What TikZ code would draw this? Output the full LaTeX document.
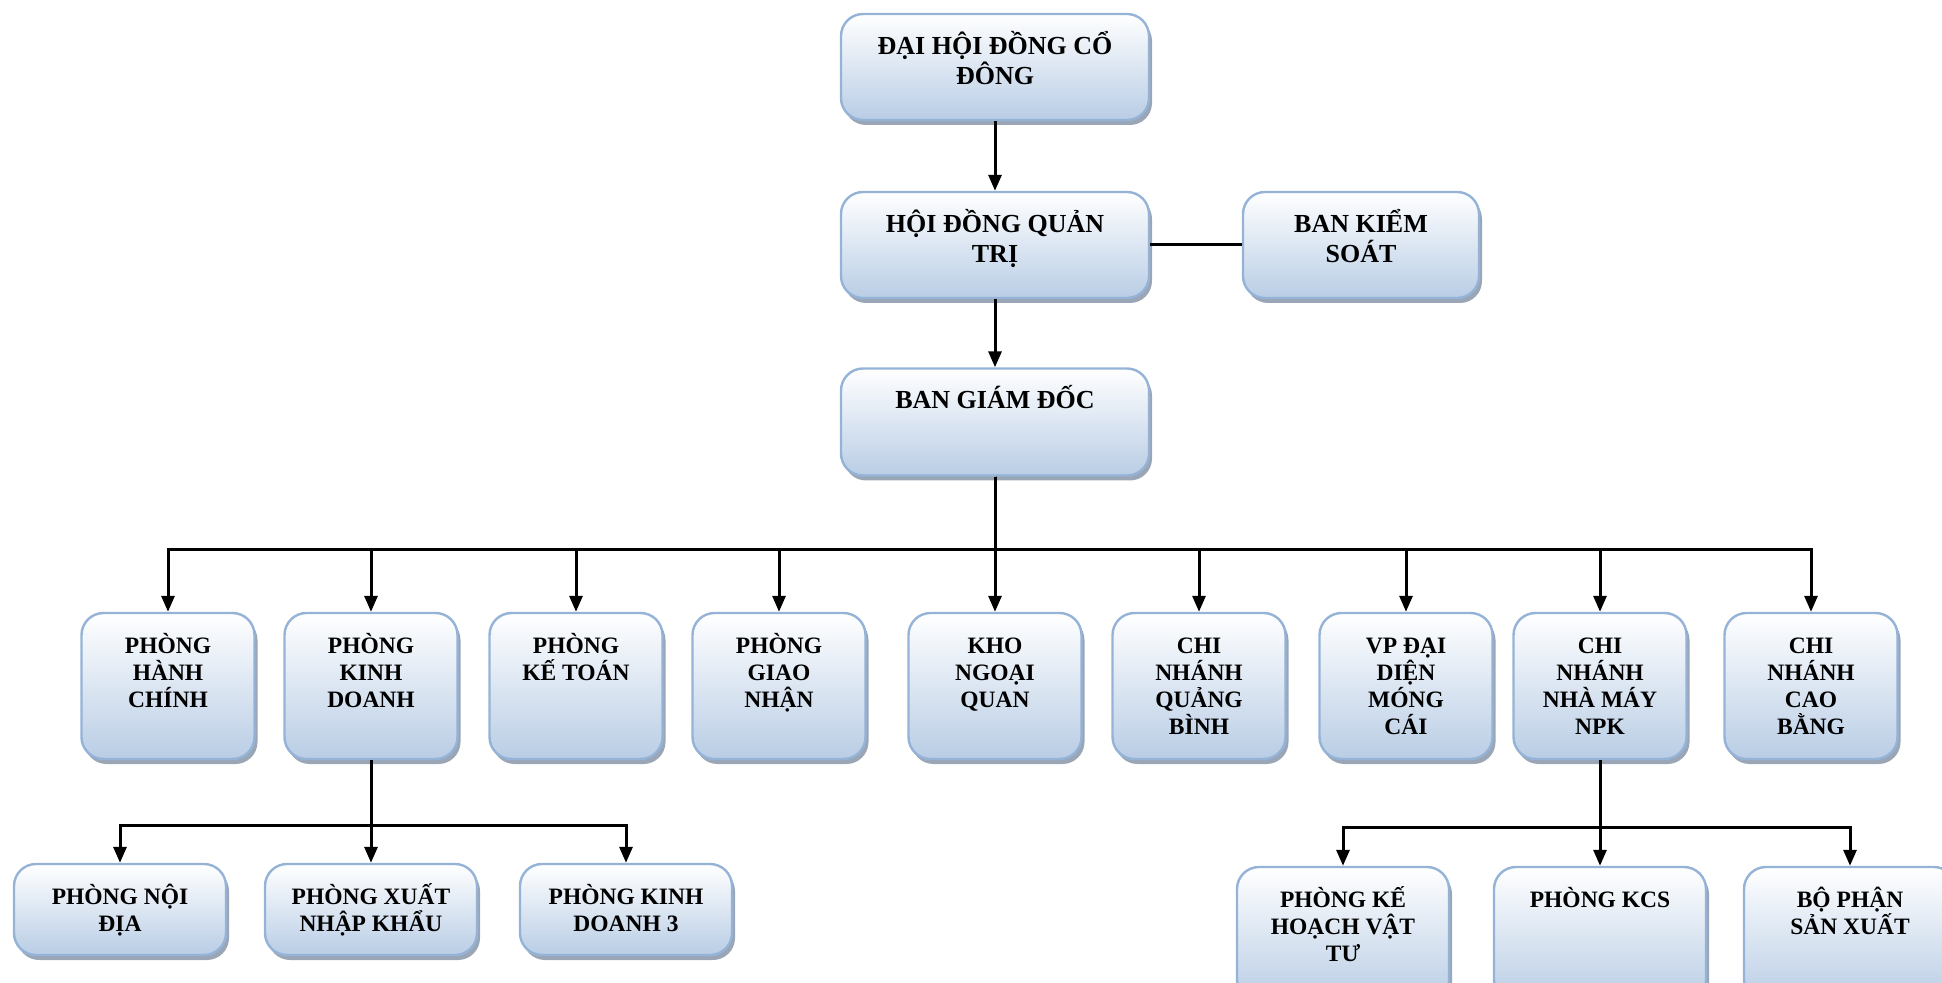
\documentclass[tikz,border=0pt]{standalone}
\usepackage{fontspec}
\setmainfont{Liberation Serif}
\usetikzlibrary{arrows.meta,shadows}
\definecolor{boxline}{HTML}{95B3D7}
\definecolor{boxfill}{HTML}{B9CDE5}
\definecolor{boxshadow}{HTML}{9AA6B6}
\newcommand{\Caps}[1]{\rule{0pt}{15pt}#1}

\begin{document}
\begin{tikzpicture}[x=0.5pt, y=-0.5pt, >={Triangle[length=8pt,width=6.5pt]},
    unit/.style={draw=boxline, line width=1.2pt, rounded corners=11pt, top color=white, bottom color=boxfill,
        drop shadow={shadow xshift=1.5pt, shadow yshift=-2.5pt, fill=boxshadow, opacity=1}, inner sep=0pt},
    head/.style={unit, minimum width=154pt, minimum height=53pt},
    dept/.style={unit, minimum width=86.5pt, minimum height=73pt},
    sub/.style={unit, minimum width=106pt, minimum height=45.5pt},
    caption/.style={anchor=north, align=center, inner sep=0pt, yshift=-5.5pt,
        font=\fontsize{11.75pt}{13.5pt}\selectfont\bfseries},
    headcap/.style={caption, font=\fontsize{13pt}{15pt}\selectfont\bfseries},
    link/.style={line width=1.5pt}]

    \clip (0,0) rectangle (1942,983);

    % top levels
    \draw(995,67) node[head] (ddh) {};
    \draw(ddh.north) node[headcap] (ddh-t) {\Caps{ĐẠI HỘI ĐỒNG CỔ}\\ĐÔNG};
    \draw(995,245) node[head] (hdqt) {};
    \draw(hdqt.north) node[headcap] (hdqt-t) {\Caps{HỘI ĐỒNG QUẢN}\\TRỊ};
    \draw(1361,245) node[head, minimum width=118pt] (bks) {};
    \draw(bks.north) node[headcap] (bks-t) {\Caps{BAN KIỂM}\\SOÁT};
    \draw(995,422) node[head, minimum height=53.5pt] (bgd) {};
    \draw(bgd.north) node[headcap] (bgd-t) {\Caps{BAN GIÁM ĐỐC}};

    % departments
    \draw(168,686) node[dept] (hc) {};
    \draw(hc.north) node[caption] (hc-t) {\Caps{PHÒNG}\\HÀNH\\CHÍNH};
    \draw(371,686) node[dept] (kd) {};
    \draw(kd.north) node[caption] (kd-t) {\Caps{PHÒNG}\\KINH\\DOANH};
    \draw(576,686) node[dept] (kt) {};
    \draw(kt.north) node[caption] (kt-t) {\Caps{PHÒNG}\\KẾ TOÁN};
    \draw(779,686) node[dept] (gn) {};
    \draw(gn.north) node[caption] (gn-t) {\Caps{PHÒNG}\\GIAO\\NHẬN};
    \draw(995,686) node[dept] (knq) {};
    \draw(knq.north) node[caption] (knq-t) {\Caps{KHO}\\NGOẠI\\QUAN};
    \draw(1199,686) node[dept] (qb) {};
    \draw(qb.north) node[caption] (qb-t) {\Caps{CHI}\\NHÁNH\\QUẢNG\\BÌNH};
    \draw(1406,686) node[dept] (mc) {};
    \draw(mc.north) node[caption] (mc-t) {\Caps{VP ĐẠI}\\DIỆN\\MÓNG\\CÁI};
    \draw(1600,686) node[dept] (npk) {};
    \draw(npk.north) node[caption] (npk-t) {\Caps{CHI}\\NHÁNH\\NHÀ MÁY\\NPK};
    \draw(1811,686) node[dept] (cb) {};
    \draw(cb.north) node[caption] (cb-t) {\Caps{CHI}\\NHÁNH\\CAO\\BẰNG};

    % under PHONG KINH DOANH
    \draw(120,909.5) node[sub] (nd) {};
    \draw(nd.north) node[caption] (nd-t) {\Caps{PHÒNG NỘI}\\ĐỊA};
    \draw(371,909.5) node[sub] (xnk) {};
    \draw(xnk.north) node[caption] (xnk-t) {\Caps{PHÒNG XUẤT}\\NHẬP KHẨU};
    \draw(626,909.5) node[sub] (kd3) {};
    \draw(kd3.north) node[caption] (kd3-t) {\Caps{PHÒNG KINH}\\DOANH 3};

    % under NPK
    \draw(1343,934.5) node[sub, minimum height=67.5pt] (khvt) {};
    \draw(khvt.north) node[caption] (khvt-t) {\Caps{PHÒNG KẾ}\\HOẠCH VẬT\\TƯ};
    \draw(1600,934.5) node[sub, minimum height=67.5pt] (kcs) {};
    \draw(kcs.north) node[caption] (kcs-t) {\Caps{PHÒNG KCS}};
    \draw(1850,934.5) node[sub, minimum height=67.5pt] (bpsx) {};
    \draw(bpsx.north) node[caption] (bpsx-t) {\Caps{BỘ PHẬN}\\SẢN XUẤT};

    \draw[link, ->] (ddh) -- (hdqt);
    \draw[link, ->] (hdqt) -- (bgd);
    \draw[link] (hdqt) -- (bks);

    \draw[link, ->] (bgd.south) -- ++(0,73) -| (hc.north);
    \draw[link, ->] (bgd.south) -- ++(0,73) -| (kd.north);
    \draw[link, ->] (bgd.south) -- ++(0,73) -| (kt.north);
    \draw[link, ->] (bgd.south) -- ++(0,73) -| (gn.north);
    \draw[link, ->] (bgd.south) -- (knq.north);
    \draw[link, ->] (bgd.south) -- ++(0,73) -| (qb.north);
    \draw[link, ->] (bgd.south) -- ++(0,73) -| (mc.north);
    \draw[link, ->] (bgd.south) -- ++(0,73) -| (npk.north);
    \draw[link, ->] (bgd.south) -- ++(0,73) -| (cb.north);

    \draw[link, ->] (kd.south) -- ++(0,65) -| (nd.north);
    \draw[link, ->] (kd.south) -- (xnk.north);
    \draw[link, ->] (kd.south) -- ++(0,65) -| (kd3.north);

    \draw[link, ->] (npk.south) -- ++(0,67) -| (khvt.north);
    \draw[link, ->] (npk.south) -- (kcs.north);
    \draw[link, ->] (npk.south) -- ++(0,67) -| (bpsx.north);

\end{tikzpicture}
\end{document}
